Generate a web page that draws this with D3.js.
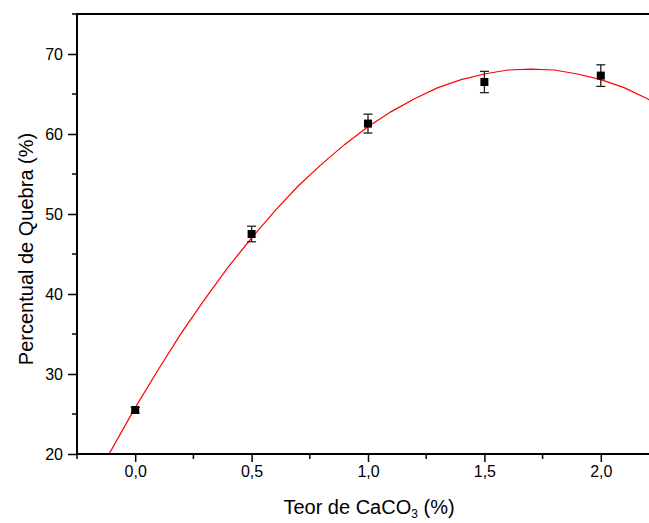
<!DOCTYPE html>
<html>
<head>
<meta charset="utf-8">
<script src="https://cdn.jsdelivr.net/npm/d3@7"></script>
<style>
  html, body { margin: 0; padding: 0; background: #fff; overflow: hidden; }
  svg { display: block; font-family: "Liberation Sans", Arial, sans-serif; }
</style>
</head>
<body>
<svg id="chart" width="649" height="523"></svg>
<script>
// Measured break percentage for each CaCO3 content
const teor = [0.0, 0.5, 1.0, 1.5, 2.0];
const quebra = [25.5, 47.5, 61.3, 66.5, 67.3];
const erro = [0.35, 0.97, 1.18, 1.33, 1.35];

// Fitted curve, sampled along x
const curvaX = [-0.12, 0.0, 0.1, 0.2, 0.3, 0.4, 0.5, 0.6, 0.7, 0.8, 0.9, 1.0, 1.1, 1.2,
                1.3, 1.4, 1.5, 1.6, 1.7, 1.8, 1.9, 2.0, 2.1, 2.2, 2.3];
const curvaY = [19.6, 25.8, 30.6, 35.2, 39.4, 43.4, 47.0, 50.4, 53.5, 56.2, 58.7, 60.9, 62.8, 64.4,
                65.8, 66.8, 67.5, 68.0, 68.1, 68.0, 67.5, 66.8, 65.8, 64.4, 62.8];

// Axis ticks
const xMajor = [0.0, 0.5, 1.0, 1.5, 2.0];
const xMinor = [-0.25, 0.25, 0.75, 1.25, 1.75, 2.25];
const yMajor = [20, 30, 40, 50, 60, 70];
const yMinor = [25, 35, 45, 55, 65, 75];

const margin = { left: 77, top: 14 };
const plotW = 582, plotH = 440;

const svg = d3.select("#chart");
const x = d3.scaleLinear().domain([-0.25, 2.25]).range([margin.left, margin.left + plotW]);
const y = d3.scaleLinear().domain([20, 75]).range([margin.top + plotH, margin.top]);
const fmt = d => d3.format(".1f")(d).replace(".", ",");

svg.append("defs").append("clipPath").attr("id", "plot")
  .append("rect")
  .attr("x", margin.left).attr("y", margin.top)
  .attr("width", plotW).attr("height", plotH);

// Fitted curve
const line = d3.line().x((d, i) => x(curvaX[i])).y(d => y(d));
svg.append("path")
  .datum(curvaY)
  .attr("clip-path", "url(#plot)")
  .attr("fill", "none")
  .attr("stroke", "#ff0000")
  .attr("stroke-width", 1.2)
  .attr("d", line);

// Error bars
const eb = svg.append("g").attr("stroke", "#222").attr("stroke-width", 1.3);
teor.forEach((t, i) => {
  const cx = x(t), top = y(quebra[i] + erro[i]), bot = y(quebra[i] - erro[i]);
  eb.append("line").attr("x1", cx).attr("x2", cx).attr("y1", top).attr("y2", bot);
  eb.append("line").attr("x1", cx - 4.5).attr("x2", cx + 4.5).attr("y1", top).attr("y2", top);
  eb.append("line").attr("x1", cx - 4.5).attr("x2", cx + 4.5).attr("y1", bot).attr("y2", bot);
});

// Square markers
svg.append("g").selectAll("rect")
  .data(teor)
  .join("rect")
  .attr("x", (d) => x(d) - 4)
  .attr("y", (d, i) => y(quebra[i]) - 4)
  .attr("width", 8).attr("height", 8)
  .attr("fill", "#000");

// Bottom axis
const xAxis = svg.append("g")
  .attr("transform", `translate(0,${margin.top + plotH})`)
  .call(d3.axisBottom(x).tickValues(xMajor).tickFormat(fmt).tickSize(8).tickPadding(4));
xAxis.append("g").selectAll("line")
  .data(xMinor).join("line")
  .attr("x1", d => x(d)).attr("x2", d => x(d)).attr("y1", 0).attr("y2", 5)
  .attr("stroke", "#000").attr("stroke-width", 1.5);

// Left axis
const yAxis = svg.append("g")
  .attr("transform", `translate(${margin.left},0)`)
  .call(d3.axisLeft(y).tickValues(yMajor).tickSize(9).tickPadding(5));
yAxis.append("g").selectAll("line")
  .data(yMinor).join("line")
  .attr("x1", 0).attr("x2", -5).attr("y1", d => y(d)).attr("y2", d => y(d))
  .attr("stroke", "#000").attr("stroke-width", 1.5);

[xAxis, yAxis].forEach(a => {
  a.select(".domain").remove();
  a.selectAll(".tick line").attr("stroke", "#000").attr("stroke-width", 1.5);
  a.selectAll(".tick text").attr("fill", "#000").style("font-size", "16px");
});

// Frame: left, bottom and top lines
const frame = svg.append("g").attr("stroke", "#000").attr("stroke-width", 2).attr("fill", "none");
frame.append("line").attr("x1", margin.left).attr("x2", margin.left)
  .attr("y1", margin.top).attr("y2", margin.top + plotH + 1);
frame.append("line").attr("x1", margin.left - 1).attr("x2", margin.left + plotW)
  .attr("y1", margin.top + plotH).attr("y2", margin.top + plotH);
frame.append("line").attr("x1", margin.left - 1).attr("x2", margin.left + plotW)
  .attr("y1", margin.top).attr("y2", margin.top);

// Axis titles
const xt = svg.append("text")
  .attr("x", 369).attr("y", 514)
  .attr("text-anchor", "middle")
  .style("font-size", "20px")
  .attr("fill", "#000");
xt.append("tspan").text("Teor de CaCO");
xt.append("tspan").attr("dy", 4).style("font-size", "12px").text("3");
xt.append("tspan").attr("dy", -4).text(" (%)");

svg.append("text")
  .attr("transform", "translate(33,249) rotate(-90)")
  .attr("text-anchor", "middle")
  .style("font-size", "20px")
  .attr("fill", "#000")
  .text("Percentual de Quebra (%)");
</script>
</body>
</html>
